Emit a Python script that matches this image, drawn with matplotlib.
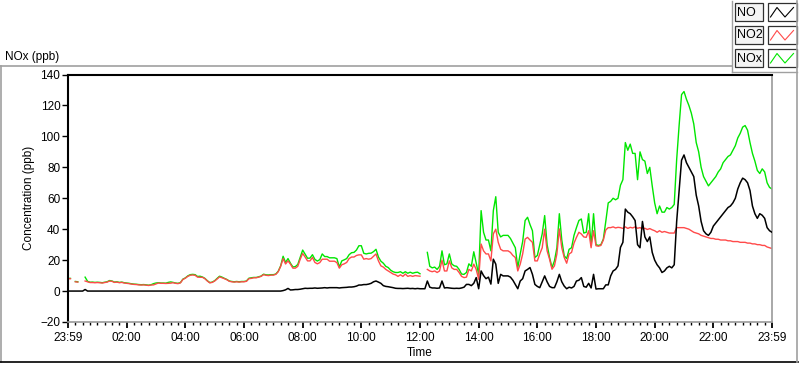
import numpy as np
import matplotlib.pyplot as plt
from matplotlib.lines import Line2D
from matplotlib.patches import Rectangle

nan = np.nan

# 5-minute readings from 23:59 to 23:59 (ppb), one row per hour
no2 = [
    8.0, 8.0, nan, 6.0, 5.8, nan, nan, 6.5, 6.0, 5.5, 5.5, 5.4,
    5.5, 5.4, 5.2, 5.5, 5.8, 6.5, 6.3, 5.6, 5.8, 5.4, 5.6, 5.2,
    5.0, 4.8, 4.5, 4.3, 4.2, 4.0, 3.9, 4.0, 3.8, 3.6, 3.9, 4.0,
    4.6, 5.2, 5.0, 5.0, 4.9, 5.0, 5.1, 5.4, 5.0, 4.8, 5.3, 7.5,
    8.3, 9.5, 10.2, 10.4, 10.2, 9.0, 8.9, 8.9, 8.0, 6.5, 5.3, 5.6,
    6.5, 7.8, 9.2, 8.6, 8.0, 7.3, 6.3, 6.0, 5.8, 6.0, 5.8, 6.0,
    6.0, 6.3, 8.0, 8.2, 8.6, 8.6, 9.0, 9.5, 10.6, 10.2, 10.0, 10.3,
    10.3, 10.8, 12.5, 16.0, 21.0, 17.5, 19.5, 17.4, 14.8, 14.8, 16.0, 20.6,
    24.3, 22.0, 19.5, 19.5, 21.7, 18.5, 17.6, 18.4, 20.6, 20.6, 20.6, 19.3,
    19.3, 19.3, 18.4, 14.8, 17.0, 17.6, 18.5, 21.0, 22.0, 22.0, 23.0, 23.4,
    23.4, 20.6, 21.0, 20.6, 21.0, 22.5, 24.0, 19.5, 16.3, 15.5, 14.0, 13.0,
    12.0, 11.0, 10.5, 9.5, 10.5, 9.5, 11.0, 9.5, 10.0, 9.5, 10.0, 9.8,
    9.6, nan, nan, 14.0, 13.0, 12.5, 13.0, 12.0, 13.0, 20.0, 13.0, 13.0,
    19.5, 15.0, 14.0, 14.0, 12.0, 9.5, 8.7, 9.0, 14.0, 13.0, 17.4, 14.0,
    7.6, 30.4, 26.0, 24.0, 24.0, 19.5, 37.0, 40.0, 31.5, 27.0, 26.0, 26.0,
    26.0, 25.0, 23.0, 21.7, 13.0, 17.4, 24.0, 33.6, 34.7, 33.0, 31.5, 19.5,
    19.5, 24.0, 28.0, 40.0, 26.0, 20.6, 14.1, 16.3, 24.0, 40.2, 28.0, 21.7,
    18.0, 24.0, 25.0, 31.0, 34.7, 38.0, 36.9, 35.0, 34.7, 39.0, 28.0, 39.0,
    29.3, 29.0, 29.5, 33.0, 39.5, 41.0, 41.0, 41.5, 40.8, 41.2, 41.0, 40.5,
    41.5, 40.5, 41.2, 40.8, 41.5, 40.6, 41.0, 40.2, 40.6, 39.8, 40.4, 39.6,
    39.0, 38.0, 39.0, 38.0, 38.5, 38.0, 37.5, 37.5, 37.5, 41.0, 41.0, 41.0,
    41.0, 40.5, 40.0, 39.0, 38.0, 37.5, 37.0, 36.0, 35.5, 35.0, 34.5, 34.0,
    34.0, 33.5, 33.5, 33.0, 33.0, 33.0, 32.5, 32.5, 32.0, 32.0, 32.0, 31.5,
    31.5, 31.5, 31.0, 31.0, 30.5, 30.5, 30.0, 30.0, 29.5, 29.5, 28.5, 28.0, 27.5,
]

no = [
    0, 0, 0, 0, 0, 0, 0, 1.0, 0, 0, 0, 0,
    0, 0, 0, 0, 0, 0, 0, 0, 0, 0, 0, 0,
    0, 0, 0, 0, 0, 0, 0, 0, 0, 0, 0, 0,
    0, 0, 0, 0, 0, 0, 0, 0, 0, 0, 0, 0,
    0, 0, 0, 0, 0, 0, 0, 0, 0, 0, 0, 0,
    0, 0, 0, 0, 0, 0, 0, 0, 0, 0, 0, 0,
    0, 0, 0, 0, 0, 0, 0, 0, 0, 0, 0, 0,
    0, 0, 0, 0, 0.3, 0.8, 1.7, 0.7, 0.8, 1.0, 1.0, 1.2,
    1.5, 1.8, 1.7, 1.8, 1.8, 2.0, 1.8, 1.9, 2.0, 2.2, 2.0, 2.2,
    2.2, 2.2, 2.2, 2.0, 2.2, 2.3, 2.4, 2.6, 2.6, 2.8, 3.2, 3.9,
    3.9, 4.2, 4.2, 4.5, 5.0, 6.0, 6.5, 5.8, 5.0, 3.5, 3.0, 2.8,
    2.5, 2.2, 1.8, 1.7, 1.7, 1.6, 1.7, 1.8, 1.6, 1.7, 1.5, 1.7,
    1.5, 1.5, 1.5, 6.5, 2.5, 2.0, 2.0, 1.8, 2.0, 6.5, 2.0, 2.2,
    2.0, 1.8, 1.7, 1.8, 1.7, 2.0, 2.5, 4.3, 4.3, 3.5, 5.0, 8.7,
    1.5, 13.0, 10.0, 8.0, 9.0, 4.5, 20.6, 17.4, 5.0, 10.8, 9.8, 9.8,
    9.8, 9.0, 7.0, 4.3, 1.5, 6.5, 8.0, 13.0, 14.0, 15.2, 10.8, 4.3,
    3.0, 2.2, 6.0, 9.8, 6.0, 3.0, 2.2, 2.2, 6.0, 10.8, 6.0, 3.2,
    1.5, 2.5, 2.0, 3.0, 6.5, 7.0, 8.7, 3.0, 2.5, 5.0, 2.0, 10.8,
    1.3, 1.5, 1.5, 1.5, 4.0, 4.0, 9.8, 13.0, 14.0, 16.3, 28.2, 31.5,
    53.0, 51.0, 50.0, 48.0, 45.6, 30.0, 28.0, 45.0, 35.0, 32.0, 35.0, 25.0,
    20.0, 17.0, 15.0, 12.0, 13.0, 15.0, 16.0, 15.0, 17.0, 45.0, 65.0, 84.6,
    88.0, 83.0, 80.0, 77.0, 74.0, 62.0, 55.0, 45.0, 39.0, 37.0, 36.0, 38.0,
    42.0, 44.0, 46.0, 48.0, 50.0, 52.0, 54.0, 55.0, 57.0, 60.0, 66.0, 70.0,
    73.0, 72.0, 70.0, 65.0, 55.0, 50.0, 47.0, 50.0, 49.0, 47.0, 41.0, 39.0, 38.0,
]

nox = [
    8.2, 8.2, nan, 6.2, 6.0, nan, nan, 9.0, 6.3, 5.7, 5.8, 5.6,
    5.7, 5.6, 5.4, 5.7, 6.0, 6.8, 6.5, 5.8, 6.0, 5.6, 5.8, 5.4,
    5.2, 5.0, 4.7, 4.5, 4.4, 4.2, 4.1, 4.2, 4.0, 3.8, 4.1, 4.8,
    5.2, 5.4, 5.2, 5.2, 5.1, 5.6, 5.9, 5.6, 5.2, 5.0, 5.5, 7.7,
    8.5, 9.8, 10.6, 10.8, 10.6, 9.4, 9.6, 9.1, 8.2, 6.7, 5.5, 5.8,
    6.7, 8.2, 9.6, 9.0, 8.2, 7.5, 6.5, 6.2, 6.0, 6.2, 6.0, 6.2,
    6.2, 6.5, 8.3, 8.6, 8.8, 8.8, 9.2, 9.7, 10.9, 10.5, 10.4, 10.6,
    10.6, 11.0, 12.8, 16.3, 22.5, 18.5, 21.0, 18.0, 15.6, 15.8, 17.2, 21.8,
    26.5, 23.8, 21.2, 21.3, 23.5, 20.5, 19.4, 20.3, 24.0, 22.3, 22.3, 21.5,
    21.5, 21.5, 21.0, 15.5, 19.5, 20.2, 21.0, 23.5, 24.8, 25.0, 26.5, 29.3,
    29.3, 24.4, 24.0, 24.4, 24.5, 25.5, 27.0, 22.0, 19.3, 18.0, 16.0, 15.2,
    13.5, 12.5, 12.0, 12.0, 12.5, 11.5, 12.5, 11.5, 12.2, 11.5, 12.0, 12.2,
    11.2, nan, nan, 25.0, 16.0, 15.0, 15.5, 14.0, 16.0, 26.0, 17.0, 17.6,
    24.0, 17.5, 16.3, 16.0, 14.0, 11.0, 10.8, 12.0, 17.6, 16.0, 25.4, 18.0,
    10.8, 52.0, 38.0, 33.0, 33.0, 26.0, 52.0, 61.0, 38.0, 35.0, 36.0, 36.0,
    36.0, 34.0, 31.0, 28.0, 15.2, 24.0, 32.0, 45.6, 47.7, 43.0, 39.0, 21.7,
    23.0, 30.0, 37.0, 48.8, 30.0, 21.7, 15.2, 19.5, 28.0, 50.0, 33.0, 22.8,
    21.0, 27.0, 28.0, 36.0, 41.0, 45.6, 46.6, 37.5, 38.0, 50.0, 29.3, 50.0,
    30.0, 29.5, 30.0, 33.6, 45.0, 57.0, 58.0, 60.0, 59.0, 60.0, 68.4, 72.0,
    96.0, 91.0, 95.0, 89.0, 89.0, 72.0, 90.0, 85.0, 84.0, 76.0, 80.0, 68.0,
    57.0, 50.0, 55.0, 51.0, 51.0, 54.0, 53.0, 54.0, 56.0, 85.0, 107.0, 127.0,
    129.0, 124.0, 120.0, 115.0, 108.0, 96.0, 90.0, 80.0, 74.0, 71.0, 68.0, 70.0,
    72.0, 74.0, 77.0, 79.0, 83.0, 85.0, 87.0, 88.0, 91.0, 94.0, 99.0, 102.0,
    106.0, 107.0, 104.0, 96.0, 89.0, 84.0, 78.0, 76.0, 79.0, 77.0, 70.0, 67.0, 66.0,
]

tick_minutes = list(range(0, 1441, 120))
tick_labels = ["23:59", "02:00", "04:00", "06:00", "08:00", "10:00", "12:00",
               "14:00", "16:00", "18:00", "20:00", "22:00", "23:59"]

series_names = ["NO", "NO2", "NOx"]
series_colors = ["#000000", "#ff4a4a", "#00e600"]

plt.rcParams["font.family"] = ["Liberation Sans", "DejaVu Sans"]
plt.rcParams["font.size"] = 8.5

W, H = 800, 365
fig = plt.figure(figsize=(W / 100, H / 100), dpi=100)


def fx(px):
    return px / W


def fy(py):
    return 1 - py / H


ax = fig.add_axes([fx(68), fy(322), fx(772) - fx(68), fy(74.5) - fy(322)])

t_no2 = np.arange(len(no2)) * 5
t_no = np.arange(len(no)) * 5
t_nox = np.arange(len(nox)) * 5

ax.plot(t_nox, nox, color=series_colors[2], lw=1.0, zorder=1)
ax.plot(t_no2, no2, color=series_colors[1], lw=1.0, zorder=2)
ax.plot(t_no, no, color=series_colors[0], lw=1.1, zorder=3)

ax.set_xlim(0, 1440)
ax.set_ylim(-20, 140)
ax.set_yticks(range(-20, 141, 20))
ax.set_xticks(tick_minutes)
ax.set_xticklabels(tick_labels)
ax.set_xticks(range(0, 1441, 15), minor=True)

ax.tick_params(axis="y", direction="out", length=4, width=1, pad=1.5)
ax.tick_params(axis="x", which="major", direction="out", length=4, width=1.3, pad=3)
ax.tick_params(axis="x", which="minor", direction="out", length=2.5, width=1)

for side in ["top", "left"]:
    ax.spines[side].set_color("black")
    ax.spines[side].set_linewidth(1.5)
for side in ["right", "bottom"]:
    ax.spines[side].set_color("#9a9a9a")
    ax.spines[side].set_linewidth(1.2)

ax.set_xlabel("Time", labelpad=2)
ax.set_ylabel("Concentration (ppb)", labelpad=4)

# --- panel frame ---
grey = "#a0a0a0"
fig.add_artist(Line2D([fx(0), fx(732)], [fy(66), fy(66)], color=grey, lw=1.2))
fig.add_artist(Line2D([fx(1), fx(1)], [fy(66), fy(362)], color=grey, lw=1.2))
fig.add_artist(Line2D([fx(0), fx(798)], [fy(362), fy(362)], color="black", lw=1.2))
fig.add_artist(Line2D([fx(797), fx(797)], [fy(1), fy(362)], color=grey, lw=1.2))
fig.add_artist(Line2D([fx(732), fx(732)], [fy(1), fy(72)], color=grey, lw=1.0))
fig.add_artist(Line2D([fx(732), fx(797)], [fy(72), fy(72)], color=grey, lw=1.0))

fig.text(fx(5), fy(57), "NOx (ppb)", ha="left", va="center")

# --- legend ---
row_tops = [3.5, 26.5, 49.5]
for name, color, top in zip(series_names, series_colors, row_tops):
    h = 17
    fig.add_artist(Rectangle((fx(734.5), fy(top + h)), fx(763) - fx(734.5), h / H,
                             facecolor="#f4f4f4", edgecolor="#303030", lw=0.9))
    fig.add_artist(Rectangle((fx(767.5), fy(top + h)), fx(796.5) - fx(767.5), h / H,
                             facecolor="white", edgecolor="#303030", lw=0.9))
    fig.text(fx(737), fy(top + h / 2 + 0.5), name, ha="left", va="center", fontsize=9)
    zx = [770.5, 777, 785, 793.5]
    zy = [top + 13.5, top + 4, top + 13.5, top + 4]
    fig.add_artist(Line2D([fx(v) for v in zx], [fy(v) for v in zy], color=color, lw=0.8))

fig.savefig("out.png", dpi=100)
